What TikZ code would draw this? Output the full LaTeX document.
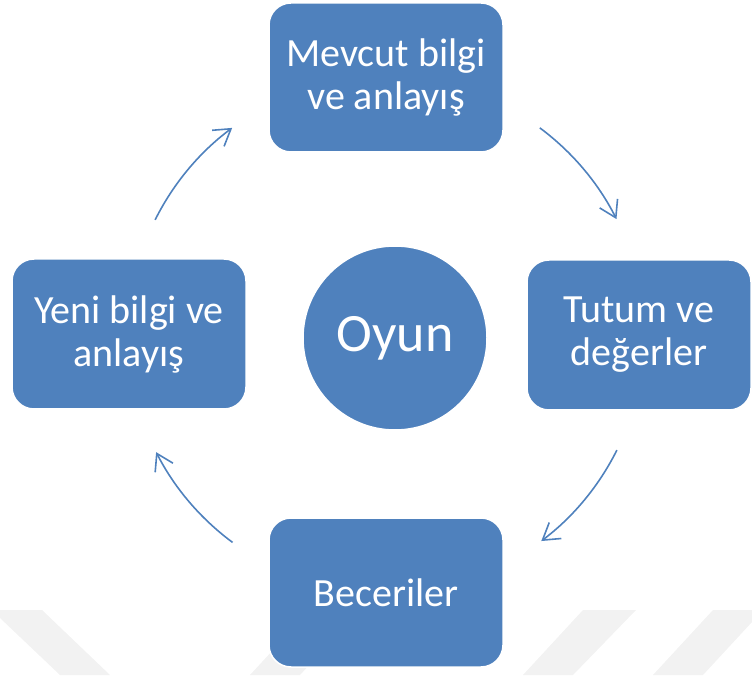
\documentclass[tikz,border=0pt]{standalone}
\usepackage{fontspec}
\setmainfont{Carlito}
\usepackage{tikz}
\usetikzlibrary{arrows.meta}
\tikzset{>={Straight Barb[length=16pt,width=20pt]}}
\definecolor{boxblue}{HTML}{4F81BD}
\definecolor{arrowblue}{HTML}{4F81BD}
\definecolor{markgray}{HTML}{F2F2F2}
\tikzset{
    stage/.style={rectangle, rounded corners=22pt, fill=boxblue, draw=white, line width=1.5pt,
        text=white, align=center, inner sep=0pt, font=\fontsize{40}{43}\selectfont},
    cyclearrow/.style={->, arrowblue, line width=1.6pt},
}

\begin{document}
\begin{tikzpicture}[x=1pt, y=1pt]
            \useasboundingbox (0, 0) rectangle (752, 675);
            % faint bands at the bottom
            \fill[markgray] (0, 65) -- (42, 65) -- (110, 0) -- (60, 0) -- (0, 57) -- cycle;
            \fill[markgray] (250, 0) -- (300, 0) -- (360, 65) -- (310, 65) -- cycle;
            \fill[markgray] (523, 0) -- (573, 0) -- (636, 65) -- (583, 65) -- cycle;
            \fill[markgray] (653, 0) -- (703, 0) -- (752, 53) -- (752, 65) -- (713, 65) -- cycle;
            % the four stages and the centre
            \node[stage, minimum width=234pt, minimum height=149pt] (known) at (386, 597.5) {Mevcut bilgi\\ve anlayış};
            \node[stage, minimum width=224pt, minimum height=150pt] (values) at (639, 340) {Tutum ve\\değerler};
            \node[stage, minimum width=234pt, minimum height=149pt] (skills) at (386, 82.5) {Beceriler};
            \node[stage, minimum width=234pt, minimum height=150pt] (newknow) at (129, 341) {Yeni bilgi ve\\anlayış};
            \node[circle, fill=boxblue, draw=white, line width=1.5pt, minimum size=184pt, inner sep=0pt,
                text=white, font=\fontsize{54}{62}\selectfont] (play) at (395, 337) {Oyun};
            % arrows round the cycle
            \coordinate (hub) at (386, 340);
            \coordinate (a1) at ([shift={(153.5:258)}]hub);
            \coordinate (a2) at ([shift={(53.4:258)}]hub);
            \coordinate (a3) at ([shift={(-26.5:258)}]hub);
            \coordinate (a4) at ([shift={(-126.5:258)}]hub);
            \draw[cyclearrow] (a1) arc[start angle=153.5, end angle=126.6, radius=258];
            \draw[cyclearrow] (a2) arc[start angle=53.4, end angle=26.7, radius=258];
            \draw[cyclearrow] (a3) arc[start angle=-26.5, end angle=-53, radius=258];
            \draw[cyclearrow] (a4) arc[start angle=-126.5, end angle=-153, radius=258];
\end{tikzpicture}
\end{document}
